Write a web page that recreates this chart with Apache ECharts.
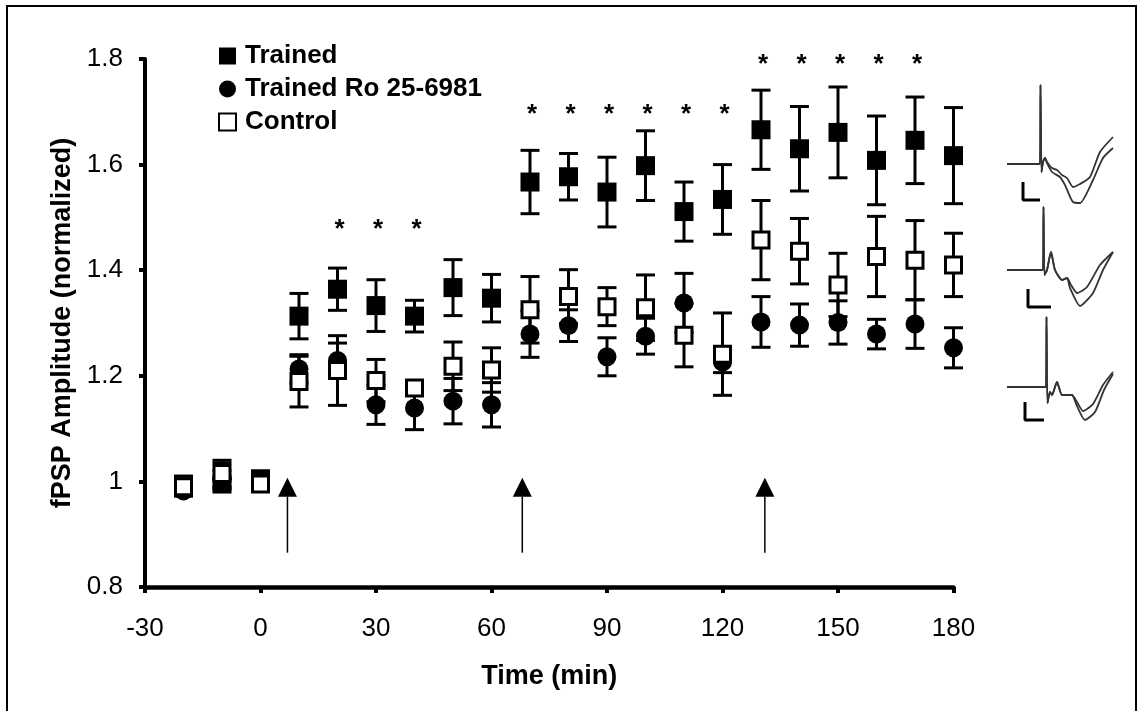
<!DOCTYPE html>
<html>
<head>
<meta charset="utf-8">
<script src="https://cdn.jsdelivr.net/npm/echarts@6/dist/echarts.min.js"></script>
<style>
html, body { margin: 0; padding: 0; background: #fff; }
#fpsp { width: 1144px; height: 711px; }
</style>
</head>
<body>
<div id="fpsp"></div>
<script>
var FONT = '"Liberation Sans", Arial, sans-serif';

// time points (min)
var times = [-20, -10, 0, 10, 20, 30, 40, 50, 60, 70, 80, 90, 100, 110, 120, 130, 140, 150, 160, 170, 180];

var trainedMean = [0.995, 0.995, 1.005, 1.313, 1.364, 1.333, 1.313, 1.367, 1.347, 1.567, 1.577, 1.548, 1.598, 1.511, 1.534, 1.666, 1.630, 1.661, 1.608, 1.646, 1.617];
var trainedErr  = [0.010, 0.010, 0.010, 0.043, 0.040, 0.049, 0.030, 0.053, 0.045, 0.060, 0.044, 0.066, 0.066, 0.056, 0.066, 0.075, 0.080, 0.086, 0.084, 0.082, 0.091];

var roMean = [0.982, 1.020, 1.000, 1.213, 1.229, 1.145, 1.139, 1.152, 1.145, 1.279, 1.295, 1.236, 1.275, 1.338, 1.226, 1.302, 1.296, 1.301, 1.279, 1.298, 1.253];
var roErr  = [0.010, 0.015, 0.010, 0.027, 0.033, 0.037, 0.041, 0.043, 0.042, 0.044, 0.030, 0.036, 0.034, 0.056, 0.020, 0.048, 0.040, 0.041, 0.028, 0.046, 0.038];

var controlMean = [0.990, 1.015, 0.995, 1.189, 1.210, 1.191, 1.177, 1.218, 1.211, 1.325, 1.350, 1.331, 1.329, 1.277, 1.241, 1.457, 1.436, 1.372, 1.426, 1.419, 1.410];
var controlErr  = [0.010, 0.025, 0.010, 0.048, 0.066, 0.040, 0.010, 0.046, 0.042, 0.063, 0.051, 0.036, 0.062, 0.060, 0.078, 0.075, 0.062, 0.060, 0.076, 0.075, 0.060];

// significance stars
var starTimes  = [20, 30, 40, 70, 80, 90, 100, 110, 120, 130, 140, 150, 160, 170];
var starLevels = [1.486, 1.486, 1.486, 1.703, 1.703, 1.703, 1.703, 1.703, 1.703, 1.798, 1.798, 1.798, 1.798, 1.798];

// training arrows
var arrowTimes = [7, 68, 131];
var arrowBase = 0.865;
var arrowTip = 1.007;

// example fPSP traces (inset units), shared start then two sweeps
var trace1Start = [[2, 46], [35, 46], [35.5, 125], [36.5, 38], [38, 48], [40, 52]];
var trace1Upper = [[42, 48], [47, 42], [52, 40], [57, 35], [62, 32], [68, 23], [75, 26], [85, 33], [95, 58], [108, 73]];
var trace1Lower = [[42, 47], [47, 38], [55, 33], [60, 25], [63, 18], [68, 8], [75, 7], [88, 30], [98, 52], [108, 62]];
var scale1 = [[18, 28], [18, 10], [35, 10]];

var trace2Start = [[2, 55], [38, 55], [38.5, 118], [39.5, 50], [42, 55], [46, 73], [50, 55], [57, 45], [62, 47]];
var trace2Upper = [[66, 40], [72, 32], [82, 38], [95, 60], [108, 73]];
var trace2Lower = [[65, 37], [75, 19], [88, 32], [98, 55], [108, 73]];
var scale2 = [[23, 36], [23, 18], [46, 18]];

var trace3Start = [[2, 53], [41, 53], [41.5, 123], [42.5, 37], [45, 48], [47, 45], [52, 58], [57, 45], [63, 45], [67, 45]];
var trace3Upper = [[72, 38], [78, 29], [88, 36], [98, 55], [108, 68]];
var trace3Lower = [[72, 34], [80, 20], [90, 28], [99, 50], [108, 66]];
var scale3 = [[20, 38], [20, 20], [39, 20]];

function withErr(mean, err) {
    return times.map(function (t, i) { return [t, mean[i], err[i]]; });
}

function errorBars(params, api) {
    var x = api.value(0), m = api.value(1), e = api.value(2);
    var hi = api.coord([x, m + e]);
    var lo = api.coord([x, m - e]);
    var w = 9.5;
    var st = { stroke: '#000', lineWidth: 3 };
    return {
        type: 'group',
        children: [
            { type: 'line', shape: { x1: hi[0], y1: hi[1], x2: lo[0], y2: lo[1] }, style: st },
            { type: 'line', shape: { x1: hi[0] - w, y1: hi[1], x2: hi[0] + w, y2: hi[1] }, style: st },
            { type: 'line', shape: { x1: lo[0] - w, y1: lo[1], x2: lo[0] + w, y2: lo[1] }, style: st }
        ]
    };
}

function drawArrow(params, api) {
    var b = api.coord([api.value(0), api.value(1)]);
    var t = api.coord([api.value(0), api.value(2)]);
    var hw = 9.5, hh = 19;
    return {
        type: 'group',
        children: [
            { type: 'line', shape: { x1: b[0], y1: b[1], x2: t[0], y2: t[1] + hh }, style: { stroke: '#000', lineWidth: 1.5 } },
            { type: 'polygon', shape: { points: [[t[0], t[1]], [t[0] - hw, t[1] + hh], [t[0] + hw, t[1] + hh]] }, style: { fill: '#000' } }
        ]
    };
}

function drawStar(params, api) {
    var p = api.coord([api.value(0), api.value(1)]);
    return {
        type: 'text',
        style: {
            text: '*', x: p[0] + 2, y: p[1] + 5,
            align: 'center', verticalAlign: 'middle',
            font: 'bold 26px ' + FONT, fill: '#000'
        }
    };
}

function traceSeries(idx, start, sweep) {
    return {
        type: 'line', xAxisIndex: idx, yAxisIndex: idx,
        data: start.concat(sweep), showSymbol: false, smooth: 0.2,
        lineStyle: { color: '#333', width: 1.8 }, silent: true, z: 1
    };
}

function scaleSeries(idx, pts) {
    return {
        type: 'line', xAxisIndex: idx, yAxisIndex: idx,
        data: pts, showSymbol: false,
        lineStyle: { color: '#000', width: 3 }, silent: true, z: 1
    };
}

function insetAxes(n) {
    var xs = [], ys = [];
    for (var i = 0; i < n; i++) {
        xs.push({ gridIndex: i + 1, type: 'value', min: 0, max: 110, show: false });
        ys.push({ gridIndex: i + 1, type: 'value', min: 0, max: 130, show: false });
    }
    return { xs: xs, ys: ys };
}

var chart = echarts.init(document.getElementById('fpsp'));
var inset = insetAxes(3);

var option = {
    animation: false,
    backgroundColor: '#fff',
    textStyle: { fontFamily: FONT, color: '#000' },
    graphic: [{
        type: 'rect', silent: true,
        shape: { x: 7, y: 6, width: 1129, height: 720 },
        style: { fill: null, stroke: '#000', lineWidth: 2 }
    }],
    legend: {
        orient: 'vertical', left: 213, top: 38,
        itemWidth: 17, itemHeight: 17, itemGap: 7,
        data: ['Trained', 'Trained Ro 25-6981', 'Control'],
        textStyle: { fontFamily: FONT, fontSize: 26, fontWeight: 'bold', color: '#000', lineHeight: 26, padding: [0, 0, 0, 4] }
    },
    grid: [
        { left: 145, right: 190.5, top: 59, bottom: 124 },
        { left: 1005, top: 80, width: 110, height: 130 },
        { left: 1005, top: 195, width: 110, height: 130 },
        { left: 1005, top: 310, width: 110, height: 130 }
    ],
    xAxis: [{
        type: 'value', min: -30, max: 180, interval: 30,
        name: 'Time (min)', nameLocation: 'middle', nameGap: 76,
        nameTextStyle: { fontFamily: FONT, fontSize: 27, fontWeight: 'bold', color: '#000' },
        axisLine: { onZero: false, lineStyle: { color: '#000', width: 4.5 } },
        axisTick: { show: true, length: 6, lineStyle: { color: '#000', width: 4 } },
        axisLabel: { fontFamily: FONT, fontSize: 26, color: '#000', margin: 29 },
        splitLine: { show: false }
    }].concat(inset.xs),
    yAxis: [{
        type: 'value', min: 0.8, max: 1.8, interval: 0.2,
        name: 'fPSP Amplitude (normalized)', nameLocation: 'middle', nameGap: 67, nameRotate: 90,
        nameTextStyle: { fontFamily: FONT, fontSize: 27, fontWeight: 'bold', color: '#000' },
        axisLine: { show: true, onZero: false, lineStyle: { color: '#000', width: 4 } },
        axisTick: { show: true, length: 6, lineStyle: { color: '#000', width: 4 } },
        axisLabel: {
            fontFamily: FONT, fontSize: 26, color: '#000', margin: 22,
            formatter: function (v) { return String(+v.toFixed(1)); }
        },
        splitLine: { show: false }
    }].concat(inset.ys),
    series: [
        { type: 'custom', renderItem: drawArrow, data: arrowTimes.map(function (t) { return [t, arrowBase, arrowTip]; }), clip: false, silent: true, z: 1 },
        { type: 'custom', renderItem: errorBars, data: withErr(trainedMean, trainedErr), clip: false, silent: true, z: 2 },
        {
            name: 'Trained', type: 'scatter', symbol: 'rect', symbolSize: 19, z: 3,
            data: times.map(function (t, i) { return [t, trainedMean[i]]; }),
            itemStyle: { color: '#000', opacity: 1 }
        },
        { type: 'custom', renderItem: errorBars, data: withErr(roMean, roErr), clip: false, silent: true, z: 4 },
        {
            name: 'Trained Ro 25-6981', type: 'scatter', symbol: 'circle', symbolSize: 19, z: 5,
            data: times.map(function (t, i) { return [t, roMean[i]]; }),
            itemStyle: { color: '#000', opacity: 1 }
        },
        { type: 'custom', renderItem: errorBars, data: withErr(controlMean, controlErr), clip: false, silent: true, z: 6 },
        {
            name: 'Control', type: 'scatter', symbol: 'rect', symbolSize: 16, z: 7,
            data: times.map(function (t, i) { return [t, controlMean[i]]; }),
            itemStyle: { color: '#fff', borderColor: '#000', borderWidth: 3, opacity: 1 }
        },
        { type: 'custom', renderItem: drawStar, data: starTimes.map(function (t, i) { return [t, starLevels[i]]; }), clip: false, silent: true, z: 8 },

        traceSeries(1, trace1Start, trace1Upper),
        traceSeries(1, trace1Start, trace1Lower),
        scaleSeries(1, scale1),
        traceSeries(2, trace2Start, trace2Upper),
        traceSeries(2, trace2Start, trace2Lower),
        scaleSeries(2, scale2),
        traceSeries(3, trace3Start, trace3Upper),
        traceSeries(3, trace3Start, trace3Lower),
        scaleSeries(3, scale3)
    ]
};
chart.setOption(option);

window.addEventListener('resize', chart.resize);
</script>
</body>
</html>
